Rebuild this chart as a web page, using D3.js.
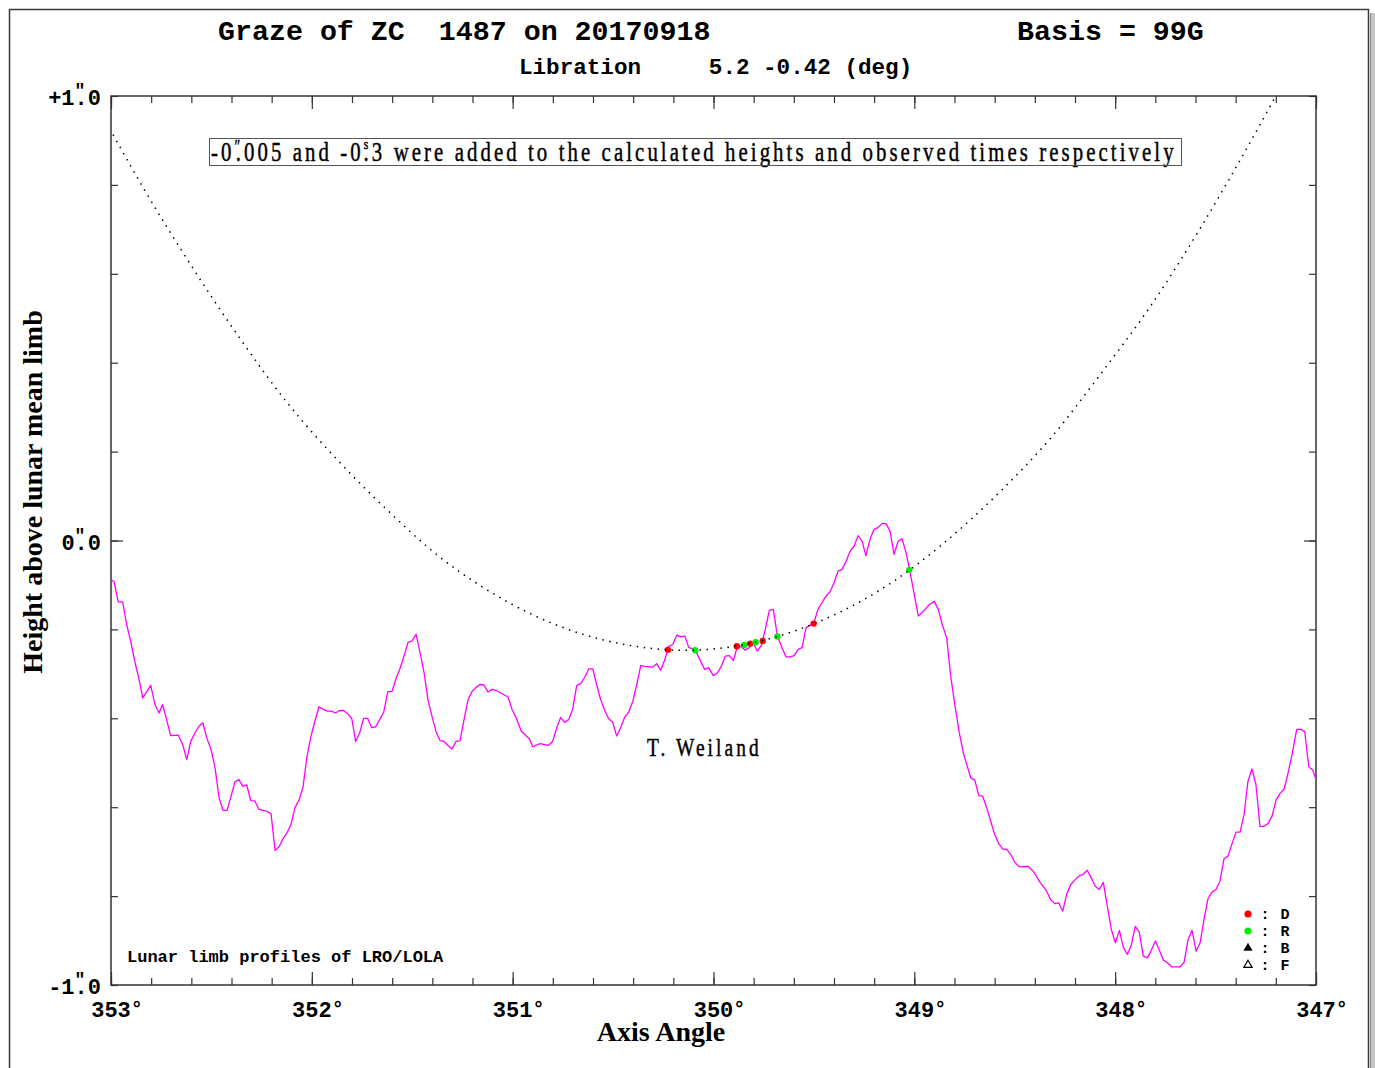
<!DOCTYPE html>
<html>
<head>
<meta charset="utf-8">
<script src="https://cdn.jsdelivr.net/npm/d3@7"></script>
<style>
  html, body { margin: 0; padding: 0; background: #fff; }
  svg { display: block; }
  text { white-space: pre; }
</style>
</head>
<body>
<svg id="chart" width="1375" height="1068"></svg>
<script>
// LRO/LOLA limb profile: axis angle (deg) and height above the mean limb (arcsec)
const limbAngle = [
  353.000, 352.985, 352.964, 352.942, 352.922, 352.902, 352.880, 352.862, 352.842, 352.802,
  352.781, 352.761, 352.743, 352.723, 352.703, 352.665, 352.643, 352.623, 352.603, 352.582,
  352.562, 352.543, 352.523, 352.502, 352.482, 352.462, 352.442, 352.422, 352.402, 352.383,
  352.363, 352.344, 352.324, 352.304, 352.284, 352.263, 352.225, 352.203, 352.183, 352.163,
  352.144, 352.124, 352.104, 352.084, 352.064, 352.044, 352.024, 352.004, 351.984, 351.964,
  351.943, 351.923, 351.903, 351.883, 351.863, 351.843, 351.823, 351.801, 351.782, 351.762,
  351.742, 351.722, 351.702, 351.682, 351.662, 351.642, 351.622, 351.601, 351.581, 351.561,
  351.541, 351.521, 351.501, 351.481, 351.461, 351.441, 351.422, 351.402, 351.382, 351.362,
  351.342, 351.322, 351.302, 351.282, 351.262, 351.242, 351.222, 351.202, 351.183, 351.163,
  351.143, 351.123, 351.103, 351.083, 351.063, 351.023, 351.003, 350.983, 350.957, 350.917,
  350.900, 350.864, 350.823, 350.801, 350.778, 350.761, 350.741, 350.721, 350.701, 350.681,
  350.661, 350.641, 350.621, 350.601, 350.582, 350.562, 350.542, 350.522, 350.502, 350.482,
  350.462, 350.442, 350.422, 350.402, 350.382, 350.362, 350.343, 350.323, 350.303, 350.283,
  350.263, 350.243, 350.223, 350.203, 350.183, 350.163, 350.143, 350.123, 350.104, 350.084,
  350.064, 350.044, 350.024, 350.001, 349.981, 349.961, 349.941, 349.921, 349.901, 349.881,
  349.862, 349.842, 349.822, 349.802, 349.782, 349.762, 349.742, 349.722, 349.702, 349.682,
  349.662, 349.639, 349.619, 349.599, 349.579, 349.559, 349.539, 349.519, 349.500, 349.480,
  349.460, 349.440, 349.420, 349.400, 349.380, 349.360, 349.340, 349.320, 349.300, 349.280,
  349.260, 349.241, 349.221, 349.201, 349.181, 349.161, 349.141, 349.121, 349.101, 349.081,
  349.061, 349.041, 349.022, 349.002, 348.980, 348.957, 348.925, 348.901, 348.881, 348.861,
  348.839, 348.819, 348.797, 348.776, 348.756, 348.719, 348.699, 348.679, 348.660, 348.640,
  348.620, 348.600, 348.580, 348.560, 348.540, 348.520, 348.500, 348.480, 348.457, 348.434,
  348.408, 348.374, 348.341, 348.321, 348.301, 348.281, 348.261, 348.241, 348.221, 348.201,
  348.178, 348.159, 348.139, 348.119, 348.099, 348.079, 348.059, 348.039, 348.019, 347.999,
  347.979, 347.959, 347.939, 347.920, 347.900, 347.880, 347.860, 347.840, 347.820, 347.800,
  347.780, 347.760, 347.740, 347.718, 347.677, 347.657, 347.637, 347.617, 347.597, 347.577,
  347.558, 347.538, 347.518, 347.498, 347.478, 347.458, 347.438, 347.418, 347.398, 347.378,
  347.358, 347.339, 347.319, 347.299, 347.279, 347.259, 347.239, 347.219, 347.199, 347.179,
  347.159, 347.139, 347.119, 347.096, 347.076, 347.056, 347.036, 347.016, 347.000
];
const limbHeight = [
  -0.089, -0.092, -0.138, -0.138, -0.189, -0.227, -0.275, -0.309, -0.354, -0.326,
  -0.369, -0.388, -0.369, -0.403, -0.439, -0.438, -0.459, -0.493, -0.452, -0.433,
  -0.418, -0.410, -0.444, -0.470, -0.511, -0.579, -0.607, -0.607, -0.575, -0.543,
  -0.538, -0.553, -0.550, -0.585, -0.586, -0.605, -0.609, -0.615, -0.697, -0.689,
  -0.671, -0.658, -0.639, -0.601, -0.584, -0.555, -0.485, -0.440, -0.405, -0.374,
  -0.380, -0.384, -0.384, -0.388, -0.383, -0.382, -0.389, -0.401, -0.452, -0.433,
  -0.400, -0.400, -0.421, -0.419, -0.403, -0.386, -0.340, -0.340, -0.311, -0.288,
  -0.260, -0.229, -0.226, -0.211, -0.253, -0.298, -0.358, -0.395, -0.429, -0.450,
  -0.452, -0.461, -0.469, -0.452, -0.450, -0.403, -0.358, -0.339, -0.331, -0.324,
  -0.325, -0.341, -0.335, -0.337, -0.342, -0.352, -0.380, -0.399, -0.429, -0.446,
  -0.464, -0.457, -0.461, -0.452, -0.418, -0.398, -0.409, -0.403, -0.379, -0.326,
  -0.322, -0.307, -0.289, -0.289, -0.324, -0.358, -0.382, -0.401, -0.409, -0.440,
  -0.421, -0.397, -0.386, -0.362, -0.324, -0.281, -0.283, -0.284, -0.285, -0.277,
  -0.292, -0.269, -0.238, -0.234, -0.213, -0.217, -0.215, -0.241, -0.243, -0.253,
  -0.272, -0.290, -0.286, -0.304, -0.298, -0.283, -0.260, -0.259, -0.270, -0.238,
  -0.239, -0.247, -0.241, -0.230, -0.249, -0.236, -0.200, -0.157, -0.155, -0.215,
  -0.238, -0.262, -0.262, -0.259, -0.245, -0.241, -0.196, -0.191, -0.185, -0.155,
  -0.140, -0.125, -0.116, -0.095, -0.069, -0.065, -0.047, -0.024, -0.013,  0.011,
  -0.002, -0.034,  0.002,  0.025,  0.029,  0.038,  0.038,  0.021, -0.031, -0.002,
   0.004, -0.028, -0.069, -0.118, -0.170, -0.160, -0.144, -0.137, -0.155, -0.189,
  -0.219, -0.305, -0.373, -0.433, -0.478, -0.534, -0.539, -0.574, -0.575, -0.601,
  -0.631, -0.661, -0.682, -0.694, -0.695, -0.706, -0.724, -0.733, -0.734, -0.733,
  -0.744, -0.769, -0.789, -0.808, -0.817, -0.815, -0.834, -0.795, -0.774, -0.764,
  -0.754, -0.751, -0.742, -0.759, -0.778, -0.785, -0.769, -0.823, -0.875, -0.905,
  -0.877, -0.916, -0.931, -0.911, -0.868, -0.881, -0.935, -0.939, -0.922, -0.901,
  -0.922, -0.944, -0.950, -0.959, -0.959, -0.949, -0.898, -0.877, -0.924, -0.905,
  -0.853, -0.806, -0.791, -0.785, -0.766, -0.716, -0.710, -0.682, -0.656, -0.656,
  -0.616, -0.542, -0.514, -0.549, -0.643, -0.643, -0.637, -0.620, -0.584, -0.569,
  -0.559, -0.523, -0.481, -0.425, -0.425, -0.430, -0.509, -0.517, -0.538
];

// Predicted path of the star relative to the mean limb
const trackAngle = [
  352.990, 352.831, 352.617, 352.368, 352.119, 351.870, 351.621, 351.372, 351.163, 350.914,
  350.665, 350.416, 350.147, 349.868, 349.619, 349.370, 349.121, 348.872, 348.573, 348.324,
  348.075, 347.826, 347.577, 347.413, 347.199
];
const trackHeight = [
   0.913,  0.787,  0.630,  0.461,  0.308,  0.180,  0.067, -0.034, -0.101, -0.164,
  -0.209, -0.236, -0.247, -0.236, -0.207, -0.161, -0.097, -0.013,  0.110,  0.229,
   0.373,  0.526,  0.702,  0.828,  1.001
];

// Observed events: D = disappearance, R = reappearance
const eventAngle  = [350.227, 350.091, 349.884, 349.847, 349.817, 349.790, 349.755, 349.682, 349.501, 349.025];
const eventHeight = [-0.246, -0.247, -0.238, -0.235, -0.232, -0.229, -0.226, -0.216, -0.187, -0.066];
const eventType   = ["D", "R", "D", "R", "D", "R", "D", "R", "D", "R"];

// Axis ticks and labels (integer part, decimals shown after the arcsecond mark)
const angleTicks   = [353, 352, 351, 350, 349, 348, 347];
const heightTicks  = [1, 0, -1];
const heightLabels = ["+1", "0", "-1"];

const legendKeys   = ["D", "R", "B", "F"];

const MONO  = "'Liberation Mono', 'DejaVu Sans Mono', monospace";
const SERIF = "'Liberation Serif', 'DejaVu Serif', serif";

const svg = d3.select("#chart");

const plot = { left: 111, right: 1316, top: 96, bottom: 985 };
const x = d3.scaleLinear().domain([353, 347]).range([plot.left, plot.right]);
const y = d3.scaleLinear().domain([-1, 1]).range([plot.bottom, plot.top]);

// page frame with a drop shadow on the right
svg.append("rect").attr("x", 1370).attr("y", 13).attr("width", 5).attr("height", 1055)
  .attr("fill", "#c6c6c6");
svg.append("line").attr("x1", 1370.5).attr("x2", 1370.5).attr("y1", 13).attr("y2", 1068)
  .attr("stroke", "#8a8a8a").attr("stroke-width", 1);
svg.append("rect").attr("x", 9.5).attr("y", 9.5).attr("width", 1359).attr("height", 1080)
  .attr("fill", "none").attr("stroke", "#3a3a3a").attr("stroke-width", 1.5);

// header
svg.append("text").attr("x", 218).attr("y", 40)
  .attr("font-family", MONO).attr("font-weight", "bold").attr("font-size", 28.3)
  .attr("fill", "#000").text("Graze of ZC  1487 on 20170918");
svg.append("text").attr("x", 1017).attr("y", 40)
  .attr("font-family", MONO).attr("font-weight", "bold").attr("font-size", 28.3)
  .attr("fill", "#000").text("Basis = 99G");
svg.append("text").attr("x", 519).attr("y", 74)
  .attr("font-family", MONO).attr("font-weight", "bold").attr("font-size", 22.6)
  .attr("fill", "#000").text("Libration     5.2 -0.42 (deg)");

// tick marks drawn with d3 axes, pointing into the plot
const minorAngles  = d3.range(0, 31).map(i => +(347 + i * 0.2).toFixed(1));
const minorHeights = d3.range(0, 11).map(i => +(-1 + i * 0.2).toFixed(1));

function ticks(axisFn, scale, values, size, tx, ty) {
  const g = svg.append("g").attr("transform", `translate(${tx},${ty})`)
    .call(axisFn(scale).tickValues(values).tickSize(size).tickFormat(""));
  g.select(".domain").remove();
  g.selectAll(".tick line").attr("stroke", "#333").attr("stroke-width", 1.2);
}
ticks(d3.axisBottom, x, minorAngles, -7, 0, plot.bottom);
ticks(d3.axisBottom, x, angleTicks, -13, 0, plot.bottom);
ticks(d3.axisTop, x, minorAngles, -7, 0, plot.top);
ticks(d3.axisTop, x, angleTicks, -13, 0, plot.top);
ticks(d3.axisLeft, y, minorHeights, -7, plot.left, 0);
ticks(d3.axisLeft, y, [0], -12, plot.left, 0);
ticks(d3.axisRight, y, minorHeights, -7, plot.right, 0);
ticks(d3.axisRight, y, [0], -12, plot.right, 0);

// plot box
svg.append("rect")
  .attr("x", plot.left).attr("y", plot.top)
  .attr("width", plot.right - plot.left).attr("height", plot.bottom - plot.top)
  .attr("fill", "none").attr("stroke", "#333").attr("stroke-width", 1.5);

// height labels: the arcsecond mark sits over the decimal point
const labelSize = 22;
const charW = labelSize * 0.6;
heightTicks.forEach((v, i) => {
  const t = svg.append("text").attr("x", 101).attr("y", y(v) + 9).attr("text-anchor", "end")
    .attr("font-family", MONO).attr("font-weight", "bold").attr("font-size", labelSize)
    .attr("fill", "#000");
  t.append("tspan").text(heightLabels[i]);
  t.append("tspan").attr("font-size", 18).attr("dy", -9).text("\"");
  t.append("tspan").attr("dx", -10.8).attr("dy", 9).text(".0");
});

// angle labels
angleTicks.forEach(v => {
  const t = svg.append("text").attr("x", x(v) - charW * 1.5).attr("y", 1017)
    .attr("font-family", MONO).attr("font-weight", "bold").attr("font-size", labelSize)
    .attr("fill", "#000");
  t.append("tspan").text(String(v));
  t.append("tspan").attr("font-size", 20).attr("dy", -2).text("°");
});

// axis titles
svg.append("text").attr("x", 661).attr("y", 1041).attr("text-anchor", "middle")
  .attr("font-family", SERIF).attr("font-weight", "bold").attr("font-size", 28)
  .attr("fill", "#000").text("Axis Angle");
svg.append("text").attr("transform", "translate(42,492) rotate(-90)").attr("text-anchor", "middle")
  .attr("font-family", SERIF).attr("font-weight", "bold").attr("font-size", 28)
  .attr("fill", "#000").text("Height above lunar mean limb");

// clip for the data marks
svg.append("defs").append("clipPath").attr("id", "plotClip")
  .append("rect").attr("x", plot.left).attr("y", plot.top)
  .attr("width", plot.right - plot.left).attr("height", plot.bottom - plot.top);
const marks = svg.append("g").attr("clip-path", "url(#plotClip)");

// limb profile
const limbLine = d3.line().x(i => x(limbAngle[i])).y(i => y(limbHeight[i]));
marks.append("path").attr("d", limbLine(d3.range(limbAngle.length)))
  .attr("fill", "none").attr("stroke", "#ff00ff").attr("stroke-width", 1.3)
  .attr("stroke-linejoin", "round");

// observed events
marks.selectAll("circle.event").data(d3.range(eventAngle.length)).join("circle")
  .attr("class", "event")
  .attr("cx", i => x(eventAngle[i])).attr("cy", i => y(eventHeight[i])).attr("r", 3.2)
  .attr("fill", i => eventType[i] === "D" ? "#ff0000" : "#00ee00");

// predicted track (dotted)
const trackLine = d3.line().curve(d3.curveMonotoneX)
  .x(i => x(trackAngle[i])).y(i => y(trackHeight[i]));
marks.append("path").attr("d", trackLine(d3.range(trackAngle.length)))
  .attr("fill", "none").attr("stroke", "#000").attr("stroke-width", 1.5)
  .attr("stroke-dasharray", "1.5 5.5");

// correction note in a box (tall, condensed lettering)
const note = svg.append("g");
const noteText = note.append("text").attr("x", 0).attr("y", 0)
  .attr("font-family", SERIF).attr("font-size", 27).attr("letter-spacing", 4)
  .attr("fill", "#000").attr("stroke", "#000").attr("stroke-width", 0.45);
noteText.append("tspan").text("-0");
noteText.append("tspan").attr("font-size", 18).attr("dy", -8).text("″");
noteText.append("tspan").attr("dx", -10).attr("dy", 8).text(".005 and -0");
noteText.append("tspan").attr("font-size", 15).attr("dy", -12).text("s");
noteText.append("tspan").attr("dx", -10).attr("dy", 12)
  .text(".3 were added to the calculated heights and observed times respectively");
const noteW = noteText.node().getBBox().width;
note.attr("transform", `translate(211,161) scale(${966 / noteW},1)`);
svg.append("rect").attr("x", 209.5).attr("y", 138.5).attr("width", 972).attr("height", 27)
  .attr("fill", "none").attr("stroke", "#555").attr("stroke-width", 1);

// observer
const obs = svg.append("g");
const obsText = obs.append("text").attr("x", 0).attr("y", 0)
  .attr("font-family", SERIF).attr("font-size", 25).attr("letter-spacing", 4)
  .attr("fill", "#000").attr("stroke", "#000").attr("stroke-width", 0.45)
  .text("T. Weiland");
const obsW = obsText.node().getBBox().width;
obs.attr("transform", `translate(647,756) scale(${115 / obsW},1)`);

// profile source
svg.append("text").attr("x", 127).attr("y", 962)
  .attr("font-family", MONO).attr("font-weight", "bold").attr("font-size", 17)
  .attr("fill", "#000").text("Lunar limb profiles of LRO/LOLA");

// legend
const legendY = [914, 931, 948, 965];
legendKeys.forEach((k, i) => {
  const ly = legendY[i];
  if (k === "D" || k === "R") {
    svg.append("circle").attr("cx", 1248).attr("cy", ly).attr("r", 3.6)
      .attr("fill", k === "D" ? "#ff0000" : "#00ee00");
  } else {
    svg.append("path").attr("transform", `translate(1248,${ly})`)
      .attr("d", d3.symbol(d3.symbolTriangle, 30)())
      .attr("fill", k === "B" ? "#000" : "#fff")
      .attr("stroke", "#000").attr("stroke-width", k === "B" ? 0.5 : 1.2);
  }
  svg.append("text").attr("x", 1265).attr("y", ly + 5).attr("text-anchor", "middle")
    .attr("font-family", MONO).attr("font-weight", "bold").attr("font-size", 15)
    .attr("fill", "#000").text(":");
  svg.append("text").attr("x", 1285).attr("y", ly + 5).attr("text-anchor", "middle")
    .attr("font-family", MONO).attr("font-weight", "bold").attr("font-size", 15)
    .attr("fill", "#000").text(k);
});
</script>
</body>
</html>
